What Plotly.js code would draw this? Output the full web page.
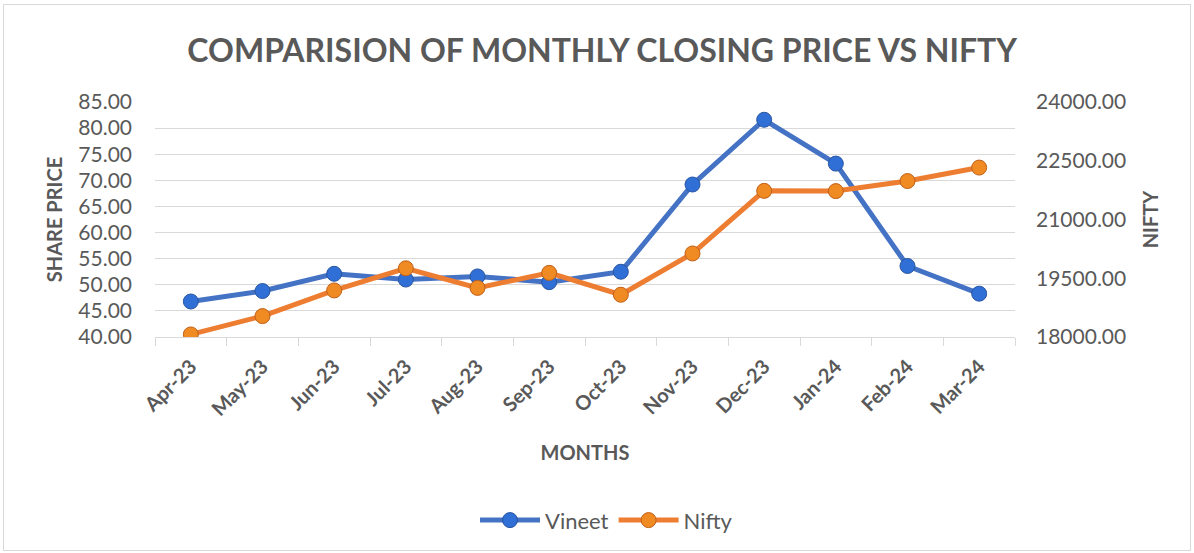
<!DOCTYPE html>
<html>
<head>
<meta charset="utf-8">
<script src="https://cdn.plot.ly/plotly-3.0.1.min.js"></script>
<style>
html,body{margin:0;padding:0;background:#fff;}
#chart{position:absolute;left:0;top:0;width:1194px;height:553px;}
#frame{position:absolute;left:3px;top:4px;width:1186px;height:545px;border:1px solid #d9d9d9;pointer-events:none;}
</style>
</head>
<body>
<div id="chart"></div>
<div id="frame"></div>
<script>
const months = ["Apr-23","May-23","Jun-23","Jul-23","Aug-23","Sep-23","Oct-23","Nov-23","Dec-23","Jan-24","Feb-24","Mar-24"];
const vineet = [46.8, 48.8, 52.1, 51.0, 51.6, 50.5, 52.5, 69.2, 81.6, 73.2, 53.6, 48.3];
const nifty = [18065, 18534, 19189, 19754, 19254, 19638, 19079, 20133, 21731, 21725, 21982, 22326];
const leftTicks = [40,45,50,55,60,65,70,75,80,85];
const rightTicks = [18000,19500,21000,22500,24000];

const FONT = "Lato, 'Open Sans', sans-serif";
const GREY = "#595959";

const traces = [
  {
    x: months, y: vineet, name: "Vineet", type: "scatter", mode: "lines+markers",
    line: {color: "#4472C4", width: 5},
    marker: {color: "#2F6FD6", size: 15, line: {color: "#2A55A0", width: 1}},
    yaxis: "y"
  },
  {
    x: months, y: nifty, name: "Nifty", type: "scatter", mode: "lines+markers",
    line: {color: "#ED7D31", width: 5},
    marker: {color: "#F08A22", size: 15, line: {color: "#C0601A", width: 1}},
    yaxis: "y2"
  }
];

const layout = {
  width: 1194, height: 553,
  margin: {l: 155, r: 179, t: 102, b: 216},
  paper_bgcolor: "#ffffff", plot_bgcolor: "#ffffff",
  font: {family: FONT, color: GREY, size: 19},
  title: {
    text: "<b>COMPARISION OF MONTHLY CLOSING PRICE VS NIFTY</b>",
    font: {family: FONT, size: 32, color: GREY},
    x: 0.52, xanchor: "center", xref: "paper", y: 48, yref: "container", yanchor: "middle"
  },
  xaxis: {
    type: "category",
    tickangle: -45,
    tickfont: {family: FONT, size: 20, color: GREY, weight: "bold"},
    showgrid: false,
    showline: true, linecolor: "#d9d9d9", linewidth: 1,
    ticks: "outside", ticklen: 8, tickcolor: "#d9d9d9",
    tickson: "boundaries",
    ticklabelstandoff: 9,
    range: [-0.5, 11.5],
    title: {text: "<b>MONTHS</b>", font: {family: FONT, size: 20, color: GREY}, standoff: 26},
    automargin: false
  },
  yaxis: {
    range: [40, 85],
    tickvals: leftTicks,
    tickformat: ".2f",
    tickfont: {family: FONT, size: 21, color: GREY},
    showgrid: true, gridcolor: "#d9d9d9", gridwidth: 1,
    zeroline: false, showline: false,
    ticks: "", ticklabelstandoff: 22,
    title: {text: "<b>SHARE PRICE</b>", font: {family: FONT, size: 20, color: GREY}, standoff: 10},
    automargin: false
  },
  yaxis2: {
    range: [18000, 24000],
    tickvals: rightTicks,
    tickformat: ".2f",
    overlaying: "y", side: "right",
    tickfont: {family: FONT, size: 21, color: GREY},
    showgrid: false, zeroline: false, showline: false,
    ticks: "", ticklabelstandoff: 20,
    title: {text: "<b>NIFTY</b>", font: {family: FONT, size: 20, color: GREY}, standoff: 18},
    automargin: false
  },
  showlegend: true,
  legend: {
    orientation: "h", x: 0.525, xanchor: "center", y: -0.78, yanchor: "middle",
    font: {family: FONT, size: 22, color: GREY},
    itemwidth: 60
  }
};

Plotly.newPlot("chart", traces, layout, {displayModeBar: false, staticPlot: true});
</script>
</body>
</html>
